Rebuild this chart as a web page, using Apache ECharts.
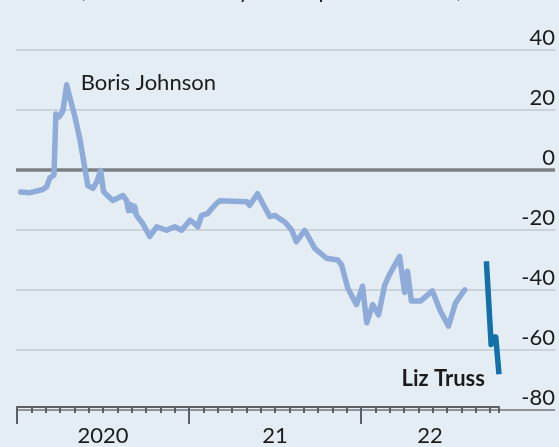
<!DOCTYPE html>
<html>
<head>
<meta charset="utf-8">
<script src="https://cdn.jsdelivr.net/npm/echarts@6/dist/echarts.min.js"></script>
<style>
  html, body { margin: 0; padding: 0; background: #e3edf3; }
  #chart { width: 559px; height: 447px; }
</style>
</head>
<body>
<div id="chart"></div>
<script>
// Net favourability of the prime minister, %
const johnsonDates = [
  '2020-01-09', '2020-01-28', '2020-02-24', '2020-03-03', '2020-03-10', '2020-03-19',
  '2020-03-23', '2020-03-30', '2020-04-03', '2020-04-07', '2020-04-15', '2020-04-20',
  '2020-05-02', '2020-05-13', '2020-05-24', '2020-05-30', '2020-06-10', '2020-06-18',
  '2020-06-26', '2020-07-02', '2020-07-11', '2020-07-22', '2020-08-13', '2020-08-21',
  '2020-08-25', '2020-08-30', '2020-09-03', '2020-09-07', '2020-09-11', '2020-09-24',
  '2020-10-09', '2020-10-24', '2020-11-14', '2020-12-01', '2020-12-16', '2021-01-03',
  '2021-01-13', '2021-01-20', '2021-01-28', '2021-02-09', '2021-02-23', '2021-03-05',
  '2021-05-02', '2021-05-08', '2021-05-25', '2021-06-09', '2021-06-20', '2021-06-30',
  '2021-07-22', '2021-08-06', '2021-08-16', '2021-09-03', '2021-09-24', '2021-10-19',
  '2021-11-12', '2021-11-20', '2021-12-03', '2021-12-22', '2022-01-04', '2022-01-13',
  '2022-01-26', '2022-02-07', '2022-02-19', '2022-02-28', '2022-03-22', '2022-04-02',
  '2022-04-08', '2022-04-16', '2022-05-05', '2022-05-31', '2022-06-17', '2022-07-04',
  '2022-07-19', '2022-08-08'
];
const johnsonValues = [
  -7.7, -8, -6.9, -6, -3, -2,
  18.5, 17.5, 18, 19.5, 28.3, 25,
  17.7, 10, 0, -5.6, -6.5, -4.3,
  -0.5, -7.5, -9, -10.6, -8.9, -10.6,
  -14, -12, -14, -12.5, -15.6, -18.3,
  -22.7, -19.4, -20.6, -19.4, -20.6, -17.2,
  -18.3, -19.4, -15.6, -15, -12.2, -10.7,
  -11, -12.2, -8.3, -12.8, -16, -15.6,
  -17.8, -20.6, -24.4, -20.6, -26.7, -30,
  -30.6, -32.2, -40, -45.6, -39.4, -51.7,
  -45.6, -49, -39, -35.6, -29.4, -41.5,
  -34.4, -44.4, -44.4, -41, -47.8, -52.8,
  -45, -40.6
];
const trussDates = ['2022-09-23', '2022-10-03', '2022-10-06', '2022-10-13', '2022-10-20'];
const trussValues = [-31, -59, -56.5, -56.5, -69];

const axisEnd = '2022-10-20';
const yearStarts = [2020, 2021, 2022];
const yearLabels = ['2020', '21', '22'];
const yMin = -80, yMax = 40, yStep = 20;

const FONT = 'Lato, "Noto Sans", sans-serif';
const INK = '#1b1b1b';
const AXIS_GREY = '#5b6064';

// Position on the x axis, in months since January 2020
function toMonths(s) {
  const [y, m, d] = s.split('-').map(Number);
  const daysInMonth = new Date(y, m, 0).getDate();
  return (y - 2020) * 12 + (m - 1) + (d - 1) / daysInMonth;
}

const xMax = toMonths(axisEnd);
const yearTickPos = yearStarts.map(y => (y - 2020) * 12);
// Year labels sit in the middle of each year's stretch of the axis
const yearLabelPos = yearTickPos.map(p => (p + Math.min(p + 12, xMax)) / 2);

const peakIdx = johnsonValues.indexOf(Math.max(...johnsonValues));
const johnsonData = johnsonDates.map((d, i) => {
  const item = { value: [toMonths(d), johnsonValues[i]] };
  if (i === peakIdx) {
    item.label = {
      show: true, position: 'right', distance: 14, offset: [0, -2],
      formatter: 'Boris Johnson', fontFamily: FONT, fontSize: 22, color: INK
    };
  }
  return item;
});
const trussData = trussDates.map((d, i) => {
  const item = { value: [toMonths(d), trussValues[i]] };
  if (i === trussDates.length - 1) {
    item.label = {
      show: true, position: 'left', distance: 14, offset: [0, 5],
      formatter: 'Liz Truss', fontFamily: FONT, fontSize: 22, fontWeight: 'bold', color: INK
    };
  }
  return item;
});

const chart = echarts.init(document.getElementById('chart'), null, { renderer: 'canvas' });

chart.setOption({
  backgroundColor: '#e3edf3',
  animation: false,
  title: {
    text: 'Britain, net favourability of the prime minister, %',
    left: 18, top: -20, padding: 0,
    textStyle: { fontFamily: FONT, fontSize: 22, fontWeight: 'normal', color: INK, lineHeight: 22 }
  },
  grid: [
    { left: 17, right: 60, top: 50, bottom: 37 },
    { left: 16, right: 4, top: 50, bottom: 37 }
  ],
  xAxis: [
    {
      // monthly ticks
      gridIndex: 0, type: 'value', position: 'bottom', min: 0, max: xMax, interval: 1,
      axisLine: { show: true, onZero: false, lineStyle: { color: AXIS_GREY, width: 2 } },
      axisTick: { show: true, length: 6, lineStyle: { color: AXIS_GREY, width: 2 } },
      axisLabel: { show: false },
      splitLine: { show: false }
    },
    {
      // year ticks and labels
      gridIndex: 0, type: 'value', position: 'bottom', offset: 0, min: 0, max: xMax,
      axisLine: { show: false, onZero: false },
      axisTick: { show: true, customValues: yearTickPos, length: 17, lineStyle: { color: AXIS_GREY, width: 2 } },
      axisLabel: {
        show: true, customValues: yearLabelPos, margin: 18,
        formatter: (v) => {
          const i = yearLabelPos.findIndex(p => Math.abs(p - v) < 0.01);
          return i >= 0 ? yearLabels[i] : '';
        },
        fontFamily: FONT, fontSize: 22, color: INK
      },
      splitLine: { show: false }
    },
    { gridIndex: 1, type: 'value', min: 0, max: 1, show: false }
  ],
  yAxis: [
    { gridIndex: 0, type: 'value', min: yMin, max: yMax, interval: yStep, show: false },
    {
      gridIndex: 1, type: 'value', min: yMin, max: yMax, interval: yStep, position: 'right',
      axisLine: { show: false },
      axisTick: { show: false },
      axisLabel: {
        inside: true, margin: 0, verticalAlign: 'bottom', padding: [0, 0, 1, 0],
        fontFamily: FONT, fontSize: 22, color: INK
      },
      splitLine: {
        show: true,
        lineStyle: { color: ['#8d9296', '#c9d3d9', '#c9d3d9', '#c9d3d9', '#c9d3d9', '#c9d3d9', '#c9d3d9'], width: 2 }
      }
    },
    {
      // heavier line marking zero
      gridIndex: 1, type: 'value', min: yMin, max: yMax, interval: 80, position: 'left',
      axisLine: { show: false }, axisTick: { show: false }, axisLabel: { show: false },
      splitLine: { show: true, lineStyle: { color: ['rgba(0,0,0,0)', '#7b8084', 'rgba(0,0,0,0)'], width: 3.5 } }
    }
  ],
  series: [
    {
      name: 'Boris Johnson', type: 'line', xAxisIndex: 0, yAxisIndex: 0,
      data: johnsonData, symbol: 'circle', symbolSize: 0.1, showSymbol: true, showAllSymbol: true,
      itemStyle: { color: '#8fabd9' },
      lineStyle: { color: '#8fabd9', width: 5.5, join: 'round', cap: 'round' },
      z: 3
    },
    {
      name: 'Liz Truss', type: 'line', xAxisIndex: 0, yAxisIndex: 0,
      data: trussData, symbol: 'circle', symbolSize: 0.1, showSymbol: true, showAllSymbol: true,
      itemStyle: { color: '#1470a8' },
      lineStyle: { color: '#1470a8', width: 5.5, join: 'round', cap: 'butt' },
      z: 4
    }
  ]
});
</script>
</body>
</html>
